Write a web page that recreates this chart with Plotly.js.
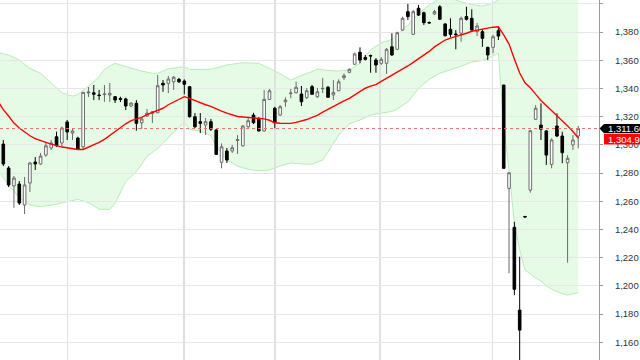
<!DOCTYPE html>
<html>
<head>
<meta charset="utf-8">
<script src="https://cdn.plot.ly/plotly-3.0.1.min.js"></script>
<style>html,body{margin:0;padding:0;background:#fff;overflow:hidden}#chart{width:640px;height:360px}</style>
</head>
<body>
<div id="chart"></div>
<script>
// Daily OHLC (109 sessions)
const openP  = [1300.6,1283.6,1270.9,1272.3,1257.4,1273.0,1287.9,1286.5,1292.8,1297.8,1305.8,1301.4,1316.3,1308.4,1304.9,1298.7,1336.8,1337.0,1335.4,1335.7,1335.4,1334.2,1332.9,1332.6,1327.6,1329.5,1315.7,1320.5,1322.4,1322.8,1343.7,1343.7,1344.8,1346.5,1345.3,1341.3,1320.0,1316.5,1314.1,1316.5,1310.6,1287.7,1295.7,1295.7,1303.1,1299.4,1312.9,1321.2,1318.2,1309.9,1332.3,1326.0,1321.2,1330.6,1336.4,1337.0,1336.1,1333.5,1341.3,1334.2,1339.8,1340.9,1335.4,1338.4,1347.7,1351.5,1357.2,1365.7,1362.1,1363.4,1360.2,1357.9,1357.9,1369.6,1367.8,1381.5,1394.5,1378.4,1396.9,1393.8,1386.8,1392.8,1398.0,1385.8,1382.0,1378.7,1379.2,1391.0,1389.8,1380.3,1380.3,1369.2,1369.2,1381.0,1342.5,1269.2,1241.6,1182.9,1249.3,1268.0,1318.2,1314.1,1309.9,1286.2,1313.4,1306.3,1287.4,1300.0,1306.3];
const highP  = [1303.5,1285.0,1278.0,1274.4,1277.3,1287.9,1291.4,1294.3,1302.3,1303.5,1309.4,1312.9,1317.7,1312.0,1305.8,1337.5,1341.1,1342.5,1339.0,1342.5,1343.9,1334.7,1334.2,1333.5,1330.1,1331.8,1319.1,1325.5,1324.0,1349.6,1346.0,1348.9,1348.9,1347.5,1346.5,1341.8,1322.6,1322.6,1319.1,1318.4,1311.3,1301.1,1297.8,1300.0,1307.0,1314.1,1320.0,1322.8,1319.8,1339.0,1339.7,1327.1,1328.3,1333.8,1339.7,1344.8,1341.8,1340.2,1342.5,1340.4,1347.5,1341.8,1346.0,1346.5,1350.8,1354.3,1365.4,1369.2,1363.8,1364.0,1361.6,1362.3,1368.7,1379.2,1380.3,1391.0,1399.9,1395.7,1399.2,1394.5,1387.5,1395.7,1399.2,1386.3,1389.8,1381.5,1391.0,1398.0,1396.2,1386.5,1382.0,1369.6,1378.0,1383.4,1342.5,1280.4,1245.5,1220.7,1249.4,1310.6,1328.3,1329.5,1310.6,1304.7,1322.4,1309.4,1292.8,1307.0,1313.4];
const lowP   = [1285.0,1270.1,1255.5,1257.4,1251.0,1266.6,1282.2,1285.8,1291.6,1296.4,1298.7,1298.7,1303.5,1303.5,1296.4,1296.4,1334.0,1331.8,1331.8,1330.6,1330.6,1329.7,1330.4,1324.7,1326.9,1310.1,1311.3,1319.8,1315.5,1322.6,1337.7,1336.8,1339.0,1343.9,1335.9,1319.4,1312.0,1308.4,1307.0,1309.9,1292.8,1283.4,1287.2,1294.3,1293.6,1298.7,1312.0,1314.8,1309.5,1309.5,1331.8,1311.8,1320.5,1327.1,1333.1,1336.5,1327.6,1332.6,1335.4,1333.3,1336.8,1333.3,1331.8,1338.2,1346.0,1350.8,1356.7,1357.9,1359.9,1351.2,1351.2,1356.7,1350.3,1363.1,1367.3,1380.8,1388.6,1378.0,1391.4,1385.0,1386.1,1392.1,1388.6,1376.8,1376.3,1367.8,1373.2,1388.2,1380.8,1377.2,1369.6,1360.2,1365.0,1374.4,1283.3,1209.0,1193.5,1140.0,1248.8,1266.1,1317.7,1303.5,1285.8,1283.4,1305.6,1287.0,1216.5,1296.4,1297.6];
const closeP = [1286.5,1271.6,1276.5,1258.8,1271.6,1287.2,1286.5,1292.1,1299.4,1301.4,1299.4,1312.0,1309.2,1309.9,1297.1,1337.3,1337.5,1335.9,1335.0,1336.1,1336.6,1331.8,1332.3,1327.6,1329.7,1315.3,1318.4,1322.6,1323.5,1342.0,1342.5,1346.7,1348.0,1344.8,1343.0,1320.0,1312.9,1315.3,1316.5,1311.1,1293.3,1298.7,1289.3,1298.0,1303.8,1313.4,1317.2,1315.7,1309.9,1332.3,1338.4,1315.7,1327.1,1331.8,1336.8,1340.9,1330.6,1338.4,1335.9,1337.7,1340.1,1333.8,1337.3,1344.8,1349.1,1353.6,1364.5,1360.2,1360.7,1363.1,1356.7,1360.7,1367.8,1363.8,1379.6,1389.8,1391.0,1394.5,1392.1,1386.7,1386.5,1394.5,1389.1,1377.5,1378.4,1378.2,1389.8,1389.1,1381.5,1384.3,1375.6,1363.8,1376.7,1377.2,1283.4,1280.3,1197.6,1168.7,1248.9,1310.1,1326.0,1311.1,1292.8,1303.5,1306.3,1294.5,1290.5,1303.5,1311.6];
const session = openP.map((_, i) => i);

// Moving average (red line)
const maX = [-1,0,1,2,3,4,5,6,7,8,9,10,11,12,13,14,15,16,17,18,19,20,21,22,23,24,25,26,27,28,29,30,31,32,33,34,35,36,37,38,39,40,41,42,43,44,45,46,47,48,49,50,51,52,53,54,55,56,57,58,59,60,61,62,63,64,65,66,67,68,69,70,71,72,73,74,75,76,77,78,79,80,81,82,83,84,85,86,87,88,89,90,91,92,93,94,95,96,97,98,99,100,101,102,103,104,105,106,107,108];
const maY = [1331,1325,1320.5,1315.5,1312,1309,1306.5,1304.5,1303,1301.8,1300.6,1299.3,1298.5,1298,1297.2,1296.8,1296.8,1298.5,1300,1301.8,1304,1306.8,1309.3,1312,1315,1317.3,1318.5,1319.5,1321.5,1323,1324,1326,1328.5,1330.5,1332.5,1334.2,1333,1331.5,1329.6,1328.5,1327.3,1325.5,1324,1322.5,1321.2,1320.2,1319.8,1319.5,1319.2,1319,1318.5,1317.5,1315.7,1315.4,1315.3,1315.3,1316,1316.8,1318,1319.5,1321,1323.2,1325.3,1327.5,1329.5,1331.3,1333,1335.3,1337.7,1340.2,1341.7,1342.8,1345,1347.2,1349.2,1351,1353.5,1356,1358.5,1361,1363.8,1366.3,1369.5,1372,1374.4,1375.8,1376.8,1377.8,1379.2,1380.6,1381.5,1382.2,1382.8,1383.5,1383.8,1378,1371.5,1361,1351,1344,1340.5,1336,1331.5,1328,1324.5,1321.2,1317.5,1313.5,1309.5,1304.9];

// Bollinger bands (green envelope)
const upX = [-1,1,3,5,7,9,11,12,13,14,16,18,19,20,21,23,26,28,29,31,34,35,39,42,45,48,50,52,54,56,58,59,61,63,65,67,69,71,73,74,76,78,80,82,84,86,88,90,92,93,94,96,98,100,104,108];
const upY = [1365.5,1363.8,1360.2,1354.3,1350.8,1344,1337,1335.8,1334.6,1335.8,1341.5,1348.5,1353.5,1356,1357.9,1355.6,1352.4,1350.8,1350.8,1354,1355.5,1353.5,1353.6,1356.7,1358.3,1357.9,1354.3,1350.5,1346,1349.2,1352,1353.8,1352.8,1352.4,1353.1,1357.9,1367.5,1372.5,1374.7,1378.5,1385,1393,1399.2,1404,1404,1401.5,1399.5,1398.5,1400.5,1403,1415,1440,1450,1455,1450,1440];
const loX = [-1,1,3,5,7,10,14,16,18,20,21,23,25,27,29,30,32,34,35,37,39,40,42,44,46,48,50,52,54,56,58,60,61,63,65,67,69,71,73,74,76,78,80,82,84,86,88,90,91,93,94,95,96,97,98,99,100,101,102,103,104,105,106,107,108];
const loY = [1282,1271.6,1262.5,1257.4,1256.2,1258,1261.4,1259,1254.5,1254.2,1258.6,1274,1281,1292,1297.5,1301,1309,1316,1311,1309.9,1306.5,1299,1289.3,1285,1282.7,1281.7,1282.2,1285,1287.3,1286.5,1286.3,1289.3,1295,1307,1315,1317.7,1321.2,1322.6,1323.7,1325.5,1330.5,1340,1346.5,1350.8,1353.3,1355.8,1358.8,1359.9,1361.3,1365,1314,1282.2,1244.6,1225.5,1211.3,1208.4,1205.6,1203.5,1200,1197.8,1195.9,1194.6,1193.5,1194.3,1195.2];

// Month separators (vertical grid) and y ticks
const monthLines = [12.1, 33.9, 51, 70.8, 91.9];
const yTicks = [1160,1180,1200,1220,1240,1260,1280,1300,1320,1340,1360,1380,1400];

const lastClose = closeP[closeP.length - 1];
const lastMA = maY[maY.length - 1];

function pathOf(xs, ys) {
  return xs.map((x, i) => (i ? 'L' : 'M') + x + ',' + ys[i]).join('');
}
const bandPath = pathOf(upX.concat(loX.slice().reverse()), upY.concat(loY.slice().reverse())) + 'Z';

const plotW = 599;
const px = p => p / plotW;   // paper position helper for the right-hand labels
const halfH = 3.3;
const maLabelY = lastClose - 2 * halfH - 1.0;   // red tag sits just under the black tag

const labelFont = {family: 'Liberation Sans, Arial, sans-serif', size: 9.5, color: '#ffffff'};

const traces = [
  {
    type: 'candlestick', x: session, open: openP, high: highP, low: lowP, close: closeP,
    increasing: {line: {color: '#6b6b6b', width: 1}, fillcolor: '#ffffff'},
    decreasing: {line: {color: '#000000', width: 1}, fillcolor: '#000000'},
    whiskerwidth: 0, hoverinfo: 'skip', showlegend: false
  },
  {
    type: 'scatter', mode: 'lines', x: maX, y: maY,
    line: {color: '#ff0000', width: 1.4}, hoverinfo: 'skip', showlegend: false
  }
];

const layout = {
  width: 640, height: 360,
  margin: {l: 0, r: 41, t: 0, b: 0},
  paper_bgcolor: '#ffffff', plot_bgcolor: '#ffffff',
  showlegend: false,
  xaxis: {
    range: [-0.62, 111.9], rangeslider: {visible: false},
    tickmode: 'array', tickvals: monthLines, showticklabels: false, ticks: '',
    showgrid: true, gridcolor: '#e0e0e0', gridwidth: 1.5, zeroline: false, showline: false
  },
  yaxis: {
    side: 'right', range: [1147.5, 1402.77],
    tickmode: 'array', tickvals: yTicks, tickformat: ',d',
    showgrid: true, gridcolor: '#e6e6e6', gridwidth: 1, zeroline: false,
    showline: true, linecolor: '#9a9a9a', linewidth: 1,
    ticks: 'outside', ticklen: 3, tickcolor: '#9a9a9a',
    ticklabelstandoff: 10,
    tickfont: {family: 'Liberation Sans, Arial, sans-serif', size: 9.5, color: '#333333'}
  },
  shapes: [
    {type: 'path', layer: 'below', xref: 'x', yref: 'y', path: bandPath,
     fillcolor: '#e6fbe6', line: {width: 0}},
    {type: 'path', layer: 'below', xref: 'x', yref: 'y', path: pathOf(upX, upY),
     line: {color: '#b5eeb5', width: 1}},
    {type: 'path', layer: 'below', xref: 'x', yref: 'y', path: pathOf(loX, loY),
     line: {color: '#b5eeb5', width: 1}},
    {type: 'line', xref: 'paper', yref: 'y', x0: 0, x1: 1, y0: lastClose, y1: lastClose,
     line: {color: '#f26b6b', width: 1, dash: 'dot'}},
    {type: 'path', xref: 'paper', yref: 'y', layer: 'above',
     path: 'M' + px(599.5) + ',' + lastClose + 'L' + px(604) + ',' + (lastClose + halfH) + 'L' + px(650) + ',' + (lastClose + halfH) +
           'L' + px(650) + ',' + (lastClose - halfH) + 'L' + px(604) + ',' + (lastClose - halfH) + 'Z',
     fillcolor: '#000000', line: {width: 0}},
    {type: 'rect', xref: 'paper', yref: 'y', layer: 'above',
     x0: px(604), x1: px(650), y0: maLabelY - halfH - 0.4, y1: maLabelY + halfH + 0.4,
     fillcolor: '#ff0000', line: {width: 0}}
  ],
  annotations: [
    {xref: 'paper', yref: 'y', x: px(606), y: lastClose, xanchor: 'left', yanchor: 'middle',
     text: '1,311.60', showarrow: false, font: labelFont},
    {xref: 'paper', yref: 'y', x: px(606), y: maLabelY, xanchor: 'left', yanchor: 'middle',
     text: '1,304.90', showarrow: false, font: labelFont}
  ]
};

Plotly.newPlot('chart', traces, layout, {staticPlot: true, displayModeBar: false});
</script>
</body>
</html>
